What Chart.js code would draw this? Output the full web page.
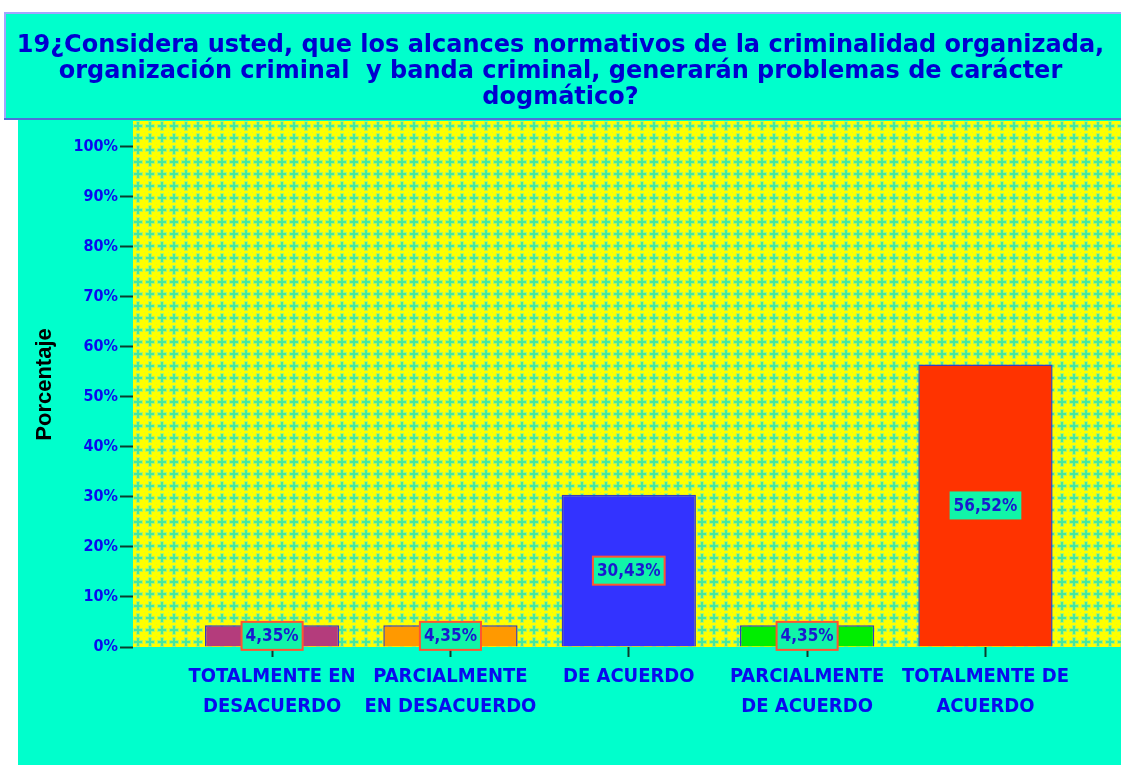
<!DOCTYPE html>
<html>
<head>
<meta charset="utf-8">
<script src="https://cdn.jsdelivr.net/npm/chart.js@4.4.0/dist/chart.umd.min.js"></script>
<style>
  html, body { margin: 0; padding: 0; background: #ffffff; }
  #contenedor { width: 1121px; height: 765px; }
</style>
</head>
<body>
<div id="contenedor"><canvas id="grafico-encuesta"></canvas></div>
<script>
// Datos de la pregunta 19
const categorias = [
  ["TOTALMENTE EN", "DESACUERDO"],
  ["PARCIALMENTE", "EN DESACUERDO"],
  ["DE ACUERDO"],
  ["PARCIALMENTE", "DE ACUERDO"],
  ["TOTALMENTE DE", "ACUERDO"]
];
const porcentajes = [4.35, 4.35, 30.43, 4.35, 56.52];
const coloresBarras = ["#b43c7c", "#ff9900", "#3333ff", "#00ee00", "#ff3300"];
const ticksY = [0, 10, 20, 30, 40, 50, 60, 70, 80, 90, 100];
const titulo = [
  "19¿Considera usted, que los alcances normativos de la criminalidad organizada,",
  "organización criminal  y banda criminal, generarán problemas de carácter",
  "dogmático?"
];

const fuenteEstrecha = '"Liberation Sans Narrow", "DejaVu Sans Condensed", "Liberation Sans", sans-serif';

// Trama amarilla con cruces verdes del fondo
function crearTrama(ctx) {
  const c = document.createElement("canvas");
  c.width = 12;
  c.height = 12;
  const g = c.getContext("2d");
  g.fillStyle = "#ffff00";
  g.fillRect(0, 0, 12, 12);
  g.fillStyle = "#b4f460";
  g.fillRect(4, 1, 4, 10);
  g.fillRect(1, 4, 10, 4);
  g.fillStyle = "#44e8a0";
  g.fillRect(5, 2, 2, 8);
  g.fillRect(2, 5, 8, 2);
  g.fillStyle = "#d8fa30";
  g.fillRect(0, 0, 1, 1);
  return ctx.createPattern(c, "repeat");
}

// Cajas de fondo (marco del grafico, titulo y area de trazado)
const pluginFondo = {
  id: "fondo",
  beforeDraw(chart) {
    const { ctx, chartArea } = chart;
    ctx.save();
    ctx.fillStyle = "#00ffcc";
    ctx.fillRect(18, 120, chart.width - 18, chart.height - 120);
    // caja del titulo
    ctx.fillRect(4, 13, chart.width - 4, 107);
    ctx.fillStyle = "#a4a4ff";
    ctx.fillRect(4, 12, chart.width - 4, 2);
    ctx.fillRect(4, 12, 2, 108);
    ctx.fillStyle = "#4f6fd8";
    ctx.fillRect(4, 118, chart.width - 4, 2);
    // area de trazado
    ctx.fillStyle = crearTrama(ctx);
    ctx.fillRect(chartArea.left, chartArea.top - 1, chartArea.right - chartArea.left, chartArea.bottom - chartArea.top + 1);
    ctx.restore();
  }
};

// Etiquetas de porcentaje dentro de cada barra
const pluginEtiquetas = {
  id: "etiquetas",
  afterDatasetsDraw(chart) {
    const { ctx } = chart;
    const meta = chart.getDatasetMeta(0);
    ctx.save();
    ctx.font = "bold 17px " + fuenteEstrecha;
    ctx.textAlign = "center";
    ctx.textBaseline = "middle";
    meta.data.forEach((barra, i) => {
      const texto = porcentajes[i].toFixed(2).replace(".", ",") + "%";
      const cx = barra.x;
      const cy = (barra.y + barra.base) / 2;
      const w = ctx.measureText(texto).width + 8;
      const h = 28;
      ctx.fillStyle = "#11f5a8";
      ctx.fillRect(cx - w / 2, cy - h / 2, w, h);
      if (i !== porcentajes.length - 1) {
        ctx.strokeStyle = "#ff5530";
        ctx.lineWidth = 2;
        ctx.strokeRect(cx - w / 2, cy - h / 2, w, h);
      }
      ctx.fillStyle = "#1a1ad0";
      ctx.fillText(texto, cx, cy + 1);
    });
    ctx.restore();
  }
};

const datos = {
  datasets: [{
    label: "Porcentaje",
    data: porcentajes.map((v, i) => ({ x: i, y: v })),
    backgroundColor: coloresBarras,
    borderColor: "#3a3ac0",
    borderWidth: 1.5,
    categoryPercentage: 1,
    barPercentage: 0.753
  }]
};

const config = {
  type: "bar",
  data: datos,
  options: {
    responsive: true,
    maintainAspectRatio: false,
    animation: false,
    layout: { padding: { left: 0, right: 0, top: 0, bottom: 0 } },
    plugins: {
      legend: { display: false },
      tooltip: { enabled: false },
      title: {
        display: true,
        text: titulo,
        color: "#0000d0",
        font: { family: '"DejaVu Sans", sans-serif', size: 24, weight: "bold", lineHeight: 1.083 },
        padding: { top: 33, bottom: 11 }
      }
    },
    scales: {
      x: {
        type: "linear",
        offset: false,
        min: -0.78,
        max: 4.76,
        afterBuildTicks: (s) => { s.ticks = categorias.map((c, i) => ({ value: i })); },
        afterFit: (s) => { s.height = 118; },
        ticks: {
          callback: (v) => categorias[v],
          autoSkip: false,
          maxRotation: 0,
          minRotation: 0,
          color: "#0a0aee",
          font: { family: fuenteEstrecha, size: 20, weight: "bold", lineHeight: 1.5 },
          padding: 5
        },
        grid: { offset: false, drawOnChartArea: false, tickLength: 10, tickColor: "#0b3d2c", tickWidth: 2 },
        border: { display: false }
      },
      y: {
        min: 0,
        max: 105,
        afterBuildTicks: (s) => { s.ticks = ticksY.map(v => ({ value: v })); },
        afterFit: (s) => { s.width = 133; },
        ticks: {
          callback: (v) => v + "%",
          color: "#0a0aee",
          font: { family: fuenteEstrecha, size: 16, weight: "bold" },
          padding: 2
        },
        grid: { drawOnChartArea: false, tickLength: 13, tickColor: "#0b3d2c", tickWidth: 2 },
        border: { display: false },
        title: {
          display: true,
          text: "Porcentaje",
          color: "#000000",
          font: { family: '"Liberation Sans", Arial, sans-serif', size: 22, weight: "bold" },
          padding: { top: 32, bottom: 0 }
        }
      }
    }
  },
  plugins: [pluginFondo, pluginEtiquetas]
};

new Chart(document.querySelector("#grafico-encuesta"), config);
</script>
</body>
</html>
